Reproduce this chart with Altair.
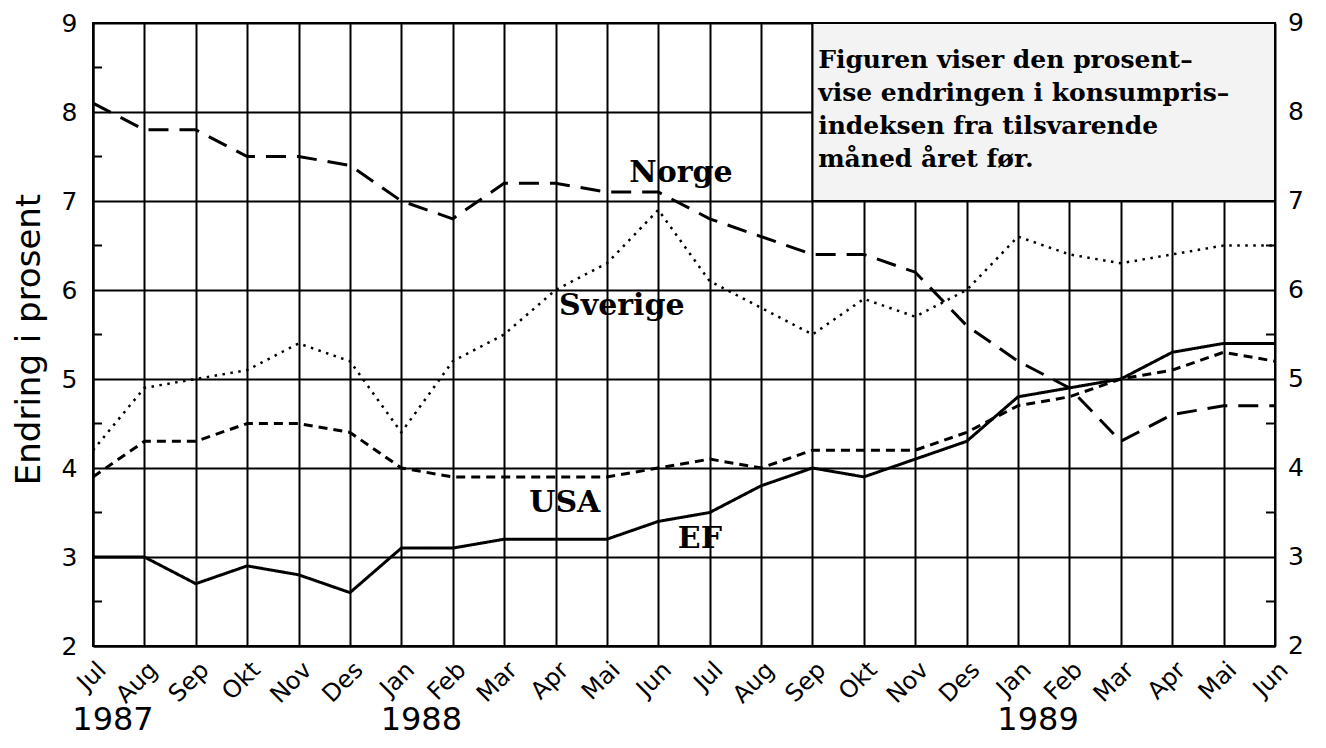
import json
import altair as alt
import pandas as pd

months = ["Jul", "Aug", "Sep", "Okt", "Nov", "Des", "Jan", "Feb", "Mar", "Apr", "Mai", "Jun",
          "Jul", "Aug", "Sep", "Okt", "Nov", "Des", "Jan", "Feb", "Mar", "Apr", "Mai", "Jun"]
norge = [8.1, 7.8, 7.8, 7.5, 7.5, 7.4, 7.0, 6.8, 7.2, 7.2, 7.1, 7.1,
         6.8, 6.6, 6.4, 6.4, 6.2, 5.6, 5.2, 4.9, 4.3, 4.6, 4.7, 4.7]
sverige = [4.2, 4.9, 5.0, 5.1, 5.4, 5.2, 4.4, 5.2, 5.5, 6.0, 6.3, 6.9,
           6.1, 5.8, 5.5, 5.9, 5.7, 6.0, 6.6, 6.4, 6.3, 6.4, 6.5, 6.5]
usa = [3.9, 4.3, 4.3, 4.5, 4.5, 4.4, 4.0, 3.9, 3.9, 3.9, 3.9, 4.0,
       4.1, 4.0, 4.2, 4.2, 4.2, 4.4, 4.7, 4.8, 5.0, 5.1, 5.3, 5.2]
ef = [3.0, 3.0, 2.7, 2.9, 2.8, 2.6, 3.1, 3.1, 3.2, 3.2, 3.2, 3.4,
      3.5, 3.8, 4.0, 3.9, 4.1, 4.3, 4.8, 4.9, 5.0, 5.3, 5.4, 5.4]

y_ticks = [2, 3, 4, 5, 6, 7, 8, 9]
minor_ticks = [2.5, 3.5, 4.5, 5.5, 6.5, 7.5, 8.5]
years = ["1987", "1988", "1989"]
year_idx = [0, 6, 18]
series_names = ["Norge", "Sverige", "USA", "EF"]
label_x = [11.44, 10.29, 9.18, 11.81]
label_y = [7.21, 5.72, 3.51, 3.10]
note_lines = ["Figuren viser den prosent–", "vise endringen i konsumpris–",
              "indeksen fra tilsvarende", "måned året før."]
note_box = {"i": 14, "i2": 23, "v": 7, "v2": 9}
note_anchor = {"i": 14.11, "v": 8.49}

W, H = 1182, 623
idx = list(range(len(months)))
SANS = "DejaVu Sans"
SERIF = "DejaVu Serif"

X = alt.X("i:Q",
          scale=alt.Scale(domain=[0, 23], nice=False, zero=False),
          axis=alt.Axis(values=idx, labelExpr=f"{json.dumps(months)}[datum.value]",
                        labelAngle=-45, labelAlign="right", labelBaseline="middle",
                        labelFont=SANS, labelFontSize=24, labelColor="black",
                        labelPadding=20, labelOffset=9, ticks=False,
                        grid=True, gridColor="black", gridWidth=2, gridOpacity=1,
                        domainColor="black", domainWidth=2, title=None,
                        labelOverlap=False, labelBound=False, labelFlush=False))
Y = alt.Y("v:Q",
          scale=alt.Scale(domain=[2, 9], nice=False, zero=False),
          axis=alt.Axis(values=y_ticks, labelFont=SANS, labelFontSize=25, labelColor="black",
                        labelPadding=16, ticks=False, grid=True, gridColor="black",
                        gridWidth=2, gridOpacity=1, domainColor="black", domainWidth=2,
                        title="Endring i prosent", titleFont=SANS, titleFontSize=34,
                        titleFontWeight="normal", titleColor="black", titleAngle=270,
                        titleBaseline="alphabetic", titleAlign="center",
                        titleX=-54, titleY=316, labelOverlap=False, labelFlush=False))

df = pd.DataFrame({"i": idx * 4,
                   "v": norge + sverige + usa + ef,
                   "s": sum([[n] * len(idx) for n in series_names], [])})

dashes = {"Norge": [20, 11], "Sverige": [2.5, 5.5], "USA": [9, 6], "EF": [1, 0]}
widths = {"Norge": 3, "Sverige": 2.5, "USA": 3, "EF": 3}

lines = []
for n in series_names:
    lines.append(
        alt.Chart(df[df.s == n]).mark_line(color="black", strokeWidth=widths[n],
                                            strokeDash=dashes[n])
        .encode(x=X, y=Y)
    )

minor_df = pd.DataFrame({"v": minor_ticks})
minor_left = alt.Chart(minor_df).mark_rule(color="black", strokeWidth=2).encode(
    y=Y, x=alt.value(0), x2=alt.value(9))
minor_right = alt.Chart(minor_df).mark_rule(color="black", strokeWidth=2).encode(
    y=Y, x=alt.value(W - 9), x2=alt.value(W))

right_labels = alt.Chart(pd.DataFrame({"v": y_ticks})).mark_text(
    font=SANS, fontSize=25, align="left", baseline="middle", color="black").encode(
    y=Y, x=alt.value(W + 13), text=alt.Text("v:Q"))

box = alt.Chart(pd.DataFrame([note_box])).mark_rect(
    fill="#f3f3f3", stroke="black", strokeWidth=2).encode(
    x=X, x2="i2:Q", y=Y, y2="v2:Q")

note = alt.Chart(pd.DataFrame([dict(note_anchor, t=note_lines)])).mark_text(
    font=SERIF, fontSize=25, fontWeight="bold", align="left", baseline="alphabetic",
    lineHeight=33, color="black").encode(x=X, y=Y, text="t")

series_lbl = alt.Chart(pd.DataFrame({"i": label_x, "v": label_y, "t": series_names})).mark_text(
    font=SERIF, fontSize=30, fontWeight="bold", align="center", baseline="alphabetic",
    color="black").encode(x=X, y=Y, text="t:N")

year_lbl = alt.Chart(pd.DataFrame({"i": year_idx, "t": years})).mark_text(
    font=SANS, fontSize=32, align="center", baseline="alphabetic", dx=20,
    color="black").encode(x=X, y=alt.value(H + 84), text="t:N")

chart = alt.layer(*lines, minor_left, minor_right, box, note, series_lbl,
                  right_labels, year_lbl).properties(
    width=W, height=H,
    padding={"left": 85, "top": 15, "right": 40, "bottom": 94},
    autosize=alt.AutoSizeParams(type="none"),
    background="white",
).configure_view(stroke="black", strokeWidth=2)

chart.save("out.html", embed_options={"renderer": "svg", "actions": False})
